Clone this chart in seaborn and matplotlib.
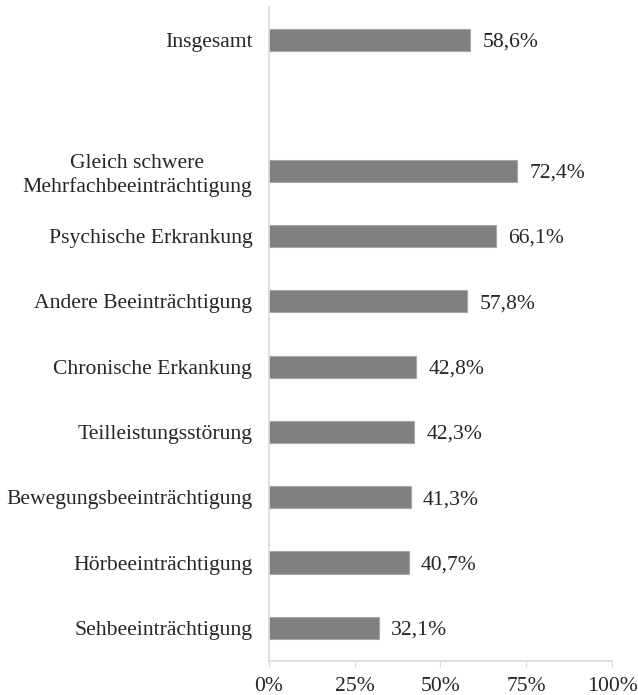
import matplotlib
matplotlib.use("Agg")
import matplotlib.pyplot as plt
import seaborn as sns
import pandas as pd
import numpy as np

categories = ["Insgesamt", "", "Gleich schwere\nMehrfachbeeinträchtigung", "Psychische Erkrankung",
              "Andere Beeinträchtigung", "Chronische Erkankung", "Teilleistungsstörung",
              "Bewegungsbeeinträchtigung", "Hörbeeinträchtigung", "Sehbeeinträchtigung"]
values = [58.6, np.nan, 72.4, 66.1, 57.8, 42.8, 42.3, 41.3, 40.7, 32.1]
labels = ["58,6%", "", "72,4%", "66,1%", "57,8%", "42,8%", "42,3%", "41,3%", "40,7%", "32,1%"]
ticks = [0, 25, 50, 75, 100]
tick_labels = ["0%", "25%", "50%", "75%", "100%"]

sns.set_style("white")
plt.rcParams['font.family'] = ['Liberation Serif', 'DejaVu Serif']

df = pd.DataFrame({"cat": categories, "val": values})
fig = plt.figure(figsize=(6.38, 6.95), dpi=100)
ax = fig.add_axes([0.4216, 0.0495, 0.5376, 0.94])
sns.barplot(data=df, y="cat", x="val", orient="h", color="#7f7f7f", saturation=1,
            width=0.34, edgecolor="#a6a6a6", linewidth=0.8, ax=ax)
ax.set_xlim(0, 100)
ax.set_ylim(9.5, -0.5)
ax.set_xlabel("")
ax.set_ylabel("")
ax.set_xticks(ticks)
ax.set_xticklabels(tick_labels, fontsize=15.6)
ax.set_yticks(range(len(categories)))
ax.set_yticklabels(categories, fontsize=15.6, linespacing=1.3, multialignment="center")
for i, (v, l) in enumerate(zip(values, labels)):
    if l:
        ax.text(v + 3.6, i, l, va="center_baseline", ha="left", fontsize=15.6)
for s in ["top", "right"]:
    ax.spines[s].set_visible(False)
for s in ["left", "bottom"]:
    ax.spines[s].set_color("#d9d9d9")
    ax.spines[s].set_linewidth(1.2)
ax.tick_params(axis="y", length=0, pad=12)
ax.tick_params(axis="x", length=4, color="#d9d9d9", direction="out", pad=8, bottom=True)
fig.savefig("out.png", dpi=100)
